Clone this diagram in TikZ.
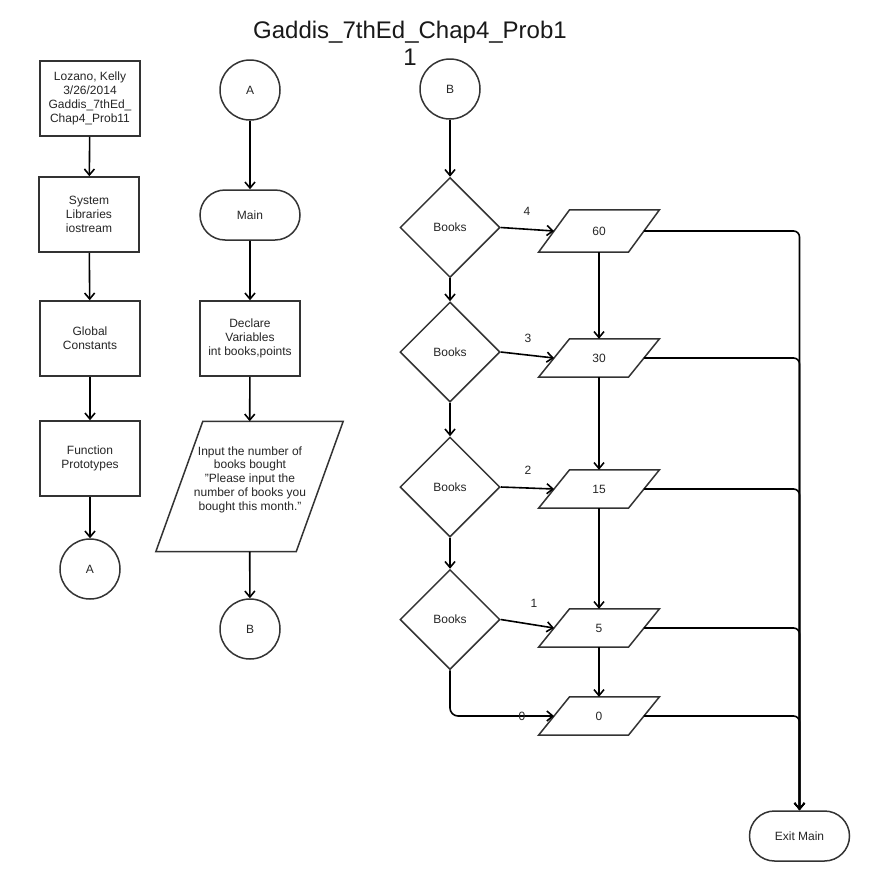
\documentclass[tikz,border=0pt]{standalone}
\usepackage{fontspec}
\setmainfont{Liberation Sans}
\usetikzlibrary{arrows.meta,shapes.geometric,shapes.misc}

% outline of a slanted input/output box around a rectangular node
\newcommand{\slantbox}[2]{%
  \draw[outline] ([xshift=#2]#1.north west) -- ([xshift=#2]#1.north east)
    -- ([xshift=-#2]#1.south east) -- ([xshift=-#2]#1.south west) -- cycle;}

\begin{document}
\begin{tikzpicture}[x=1pt,y=-1pt,
  outline/.style={draw=black!80, line width=1.5pt, line join=miter},
  shapeline/.style={outline, fill=white, inner sep=0pt,
    align=center, font=\fontsize{12}{13.8}\selectfont, text=black!85},
  procbox/.style={shapeline, rectangle, minimum width=100pt, minimum height=75pt},
  joint/.style={shapeline, circle, minimum size=60pt},
  terminal/.style={shapeline, rounded rectangle, minimum width=100pt, minimum height=50pt},
  decision/.style={shapeline, diamond, minimum width=100pt, minimum height=100pt},
  iobox/.style={rectangle, inner sep=0pt, align=center, font=\fontsize{12}{13.8}\selectfont,
    text=black!85, minimum width=89.5pt, minimum height=38pt},
  flow/.style={draw=black, line width=1.6pt, -{Straight Barb[length=6pt,width=10pt]}},
  exitflow/.style={flow, rounded corners=6pt},
  lbl/.style={font=\fontsize{12}{14}\selectfont, text=black!85}
]
\fill[white] (0,0) rectangle (870,881);
\useasboundingbox (0,0) rectangle (870,881);

% title
\node[font=\fontsize{24}{27}\selectfont, align=center, text=black!90] (title) at (410,43.5)
  {Gaddis\_7thEd\_Chap4\_Prob1\\1};

% left column: header and declarations
\node[procbox] (hdr) at (90,98.5) {Lozano, Kelly\\3/26/2014\\Gaddis\_7thEd\_\\Chap4\_Prob11};
\node[procbox] (lib) at (89,214.5) {System\\Libraries\\iostream};
\node[procbox] (glob) at (90,338.5) {Global\\Constants};
\node[procbox] (proto) at (90,458.5) {Function\\Prototypes};
\node[joint] (a1) at (90,569) {A};

\draw[flow] (hdr) -- (lib);
\draw[flow] (lib) -- (glob);
\draw[flow] (glob) -- (proto);
\draw[flow] (proto) -- (a1);

% middle column: main and input
\node[joint] (a2) at (250,90) {A};
\node[terminal] (main) at (250,215) {Main};
\node[procbox] (decl) at (250,338.5) {Declare\\Variables\\int books,points};
\node[iobox, minimum width=140pt, minimum height=130pt] (inp) at (249.5,486.5) {};
\slantbox{inp}{23.5pt}
\node[lbl, align=center, font=\fontsize{12}{13.8}\selectfont] (inptxt) at (250,479.5)
  {Input the number of\\books bought\\"Please input the\\number of books you\\bought this month."};
\node[joint] (b1) at (250,629) {B};

\draw[flow] (a2) -- (main);
\draw[flow] (main) -- (decl);
\draw[flow] (decl) -- (inp);
\draw[flow] (inp) -- (b1);

% right column: decisions on books
\node[joint] (b2) at (450,89) {B};
\node[decision] (d1) at (450,227.5) {Books};
\node[decision] (d2) at (450,352) {Books};
\node[decision] (d3) at (450,487) {Books};
\node[decision] (d4) at (450,619.5) {Books};

\node[iobox, minimum height=42pt] (p60) at (599,231) {60};
\node[iobox] (p30) at (599,358) {30};
\node[iobox] (p15) at (599,489) {15};
\node[iobox] (p5) at (599,628) {5};
\node[iobox] (p0) at (599,716) {0};
\slantbox{p60}{15.5pt}
\slantbox{p30}{15.5pt}
\slantbox{p15}{15.5pt}
\slantbox{p5}{15.5pt}
\slantbox{p0}{15.5pt}

\node[terminal] (exit) at (799.5,836) {Exit Main};

\draw[flow] (b2) -- (d1);
\draw[flow] (d1) -- (d2);
\draw[flow] (d2) -- (d3);
\draw[flow] (d3) -- (d4);

\draw[flow] (d1.east) -- (p60.west);
\draw[flow] (d2.east) -- (p30.west);
\draw[flow] (d3.east) -- (p15.west);
\draw[flow] (d4.east) -- (p5.west);
\draw[flow, rounded corners=8pt] (d4.south) |- (p0.west);

\node[lbl] (l4) at (527,211) {4};
\node[lbl] (l3) at (528,338) {3};
\node[lbl] (l2) at (528,470) {2};
\node[lbl] (l1) at (534,603) {1};
\node[lbl] (l0) at (522,716) {0};

\draw[flow] (p60) -- (p30);
\draw[flow] (p30) -- (p15);
\draw[flow] (p15) -- (p5);
\draw[flow] (p5) -- (p0);

\draw[exitflow] (p60.east) -| (exit.north);
\draw[exitflow] (p30.east) -| (exit.north);
\draw[exitflow] (p15.east) -| (exit.north);
\draw[exitflow] (p5.east) -| (exit.north);
\draw[exitflow] (p0.east) -| (exit.north);
\end{tikzpicture}
\end{document}
